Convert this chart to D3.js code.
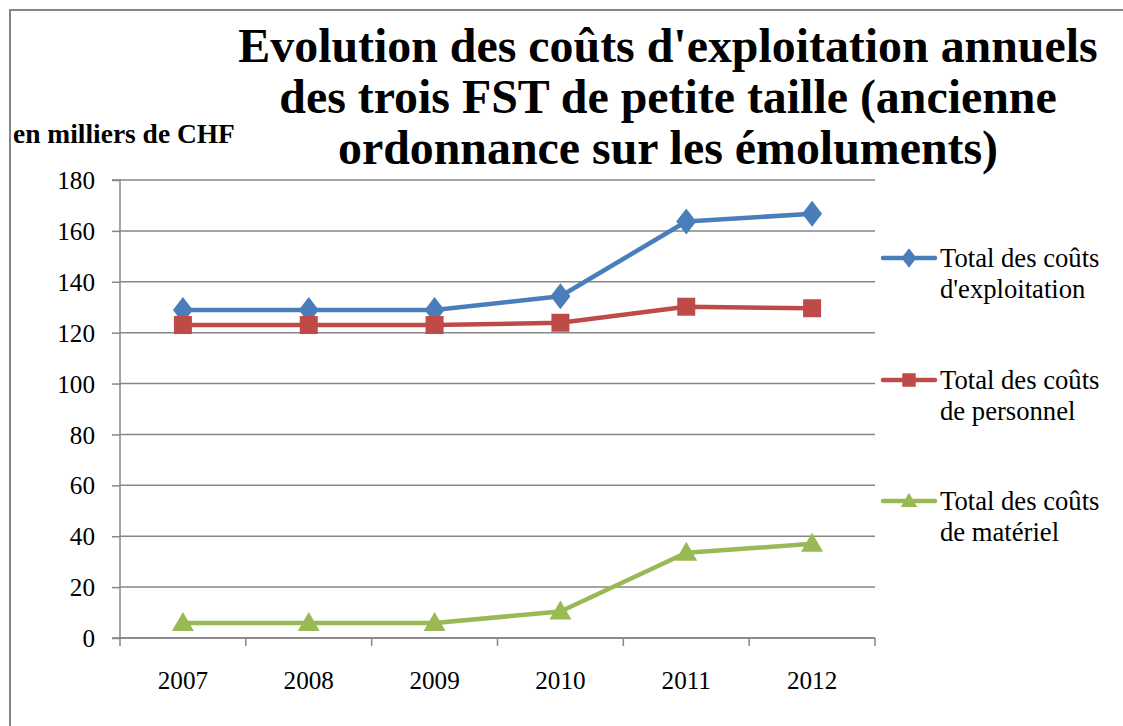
<!DOCTYPE html>
<html><head><meta charset="utf-8">
<script src="https://cdn.jsdelivr.net/npm/d3@7"></script>
</head><body style="margin:0">
<svg id="c" width="1123" height="726" font-family="Liberation Serif"></svg>
<script>
const years = ["2007","2008","2009","2010","2011","2012"];
const exploitation = [128.9, 128.9, 128.9, 134.3, 163.7, 166.7];
const personnel = [123.0, 123.0, 123.0, 123.9, 130.2, 129.6];
const materiel = [5.9, 5.9, 5.9, 10.4, 33.5, 37.0];
const yTicks = [0,20,40,60,80,100,120,140,160,180];
const titleLines = ["Evolution des coûts d'exploitation annuels","des trois FST de petite taille (ancienne","ordonnance sur les émoluments)"];
const unitLabel = "en milliers de CHF";
const seriesNames = [["Total des coûts","d'exploitation"],["Total des coûts","de personnel"],["Total des coûts","de matériel"]];
const seriesColors = ["#4a7ebb","#be4b48","#98b954"];

const svg = d3.select("#c");
const grey = "#868686";
function serif(sel){ return sel.attr("font-family","Liberation Serif").style("font-family",'"Liberation Serif"'); }
// font size that makes a text sample reach a target width in the reference
function fitSize(str, weight, targetW){
  const t = serif(svg.append("text")).attr("font-size",100).attr("font-weight",weight).text(str);
  const w = t.node().getComputedTextLength();
  t.remove();
  return w > 0 ? 100*targetW/w : 20;
}
const titleSize = (fitSize(titleLines[0],"bold",860)+fitSize(titleLines[1],"bold",775)+fitSize(titleLines[2],"bold",662))/3;
const unitSize = fitSize(unitLabel,"bold",222);
const legSize = (fitSize("Total des coûts","normal",160)+fitSize("d'exploitation","normal",145))/2;
const tickSize = (fitSize("2007","normal",50)+fitSize("180","normal",38))/2;

const shapes = [
  s => `M0,${-13*s}L${10*s},0L0,${13*s}L${-10*s},0Z`,
  s => `M${-9*s},${-9*s}H${9*s}V${9*s}H${-9*s}Z`,
  s => `M0,${-11*s}L${11*s},${8*s}H${-11*s}Z`
];

svg.append("path").attr("d","M10,726 V10 H1123").attr("fill","none").attr("stroke",grey).attr("stroke-width",2);

const L=120, R=875, T=180, B=638;
const x = d3.scaleBand().domain(years).range([L,R]);
const y = d3.scaleLinear().domain([0,180]).range([B,T]);

svg.append("g").selectAll("line").data(yTicks).join("line")
  .attr("x1",L).attr("x2",R).attr("y1",d=>y(d)).attr("y2",d=>y(d))
  .attr("stroke",grey).attr("stroke-width",1.5);

const ya = svg.append("g").attr("transform",`translate(${L},0)`)
  .call(d3.axisLeft(y).tickValues(yTicks).tickSize(8).tickPadding(17));
serif(ya);
ya.select(".domain").attr("stroke",grey).attr("stroke-width",1.5).attr("d",`M-8,${B}H0V${T}H-8`);
ya.selectAll(".tick line").attr("stroke",grey).attr("stroke-width",1.5);
serif(ya.selectAll("text")).attr("font-size",tickSize).attr("fill","#000").attr("x",-25).attr("dy","0.34em");

const xa = svg.append("g").attr("transform",`translate(0,${B})`)
  .call(d3.axisBottom(x).tickSize(0));
serif(xa);
xa.select(".domain").attr("stroke",grey).attr("stroke-width",1.5).attr("d",`M${L},0H${R}`);
serif(xa.selectAll("text")).attr("font-size",tickSize).attr("fill","#000").attr("y",42).attr("dy","0.34em");
const bounds = years.map(d=>x(d)).concat([R]);
svg.append("g").selectAll("line").data(bounds).join("line")
  .attr("x1",d=>d).attr("x2",d=>d).attr("y1",B).attr("y2",B+8)
  .attr("stroke",grey).attr("stroke-width",1.5);

const all = [exploitation, personnel, materiel];
const cx = d => x(d)+x.bandwidth()/2;
const line = d3.line().x((d,i)=>cx(years[i])).y(d=>y(d));
all.forEach((vals,si)=>{
  svg.append("path").attr("d",line(vals)).attr("fill","none")
    .attr("stroke",seriesColors[si]).attr("stroke-width",4.5).attr("stroke-linejoin","round");
  svg.append("g").selectAll("path").data(vals).join("path")
    .attr("d",shapes[si](1))
    .attr("transform",(d,i)=>`translate(${cx(years[i])},${y(d)})`)
    .attr("fill",seriesColors[si]);
});

const legY = [258, 380, 501];
seriesNames.forEach((nm,si)=>{
  const g = svg.append("g").attr("transform",`translate(0,${legY[si]})`);
  g.append("line").attr("x1",883).attr("x2",935).attr("y1",0).attr("y2",0)
    .attr("stroke",seriesColors[si]).attr("stroke-width",4.5).attr("stroke-linecap","round");
  g.append("path").attr("d",shapes[si](0.75)).attr("transform","translate(909,0)").attr("fill",seriesColors[si]);
  nm.forEach((t,k)=>{
    serif(g.append("text").attr("x",940).attr("y",9+k*31).text(t))
      .attr("font-size",legSize).attr("fill","#000");
  });
});

titleLines.forEach((t,i)=>{
  serif(svg.append("text").attr("x",668).attr("y",62+i*51).attr("text-anchor","middle"))
    .attr("font-weight","bold").attr("font-size",titleSize).attr("fill","#000").text(t);
});
serif(svg.append("text").attr("x",13).attr("y",143).text(unitLabel))
  .attr("font-weight","bold").attr("font-size",unitSize).attr("fill","#000");
</script>
</body></html>
